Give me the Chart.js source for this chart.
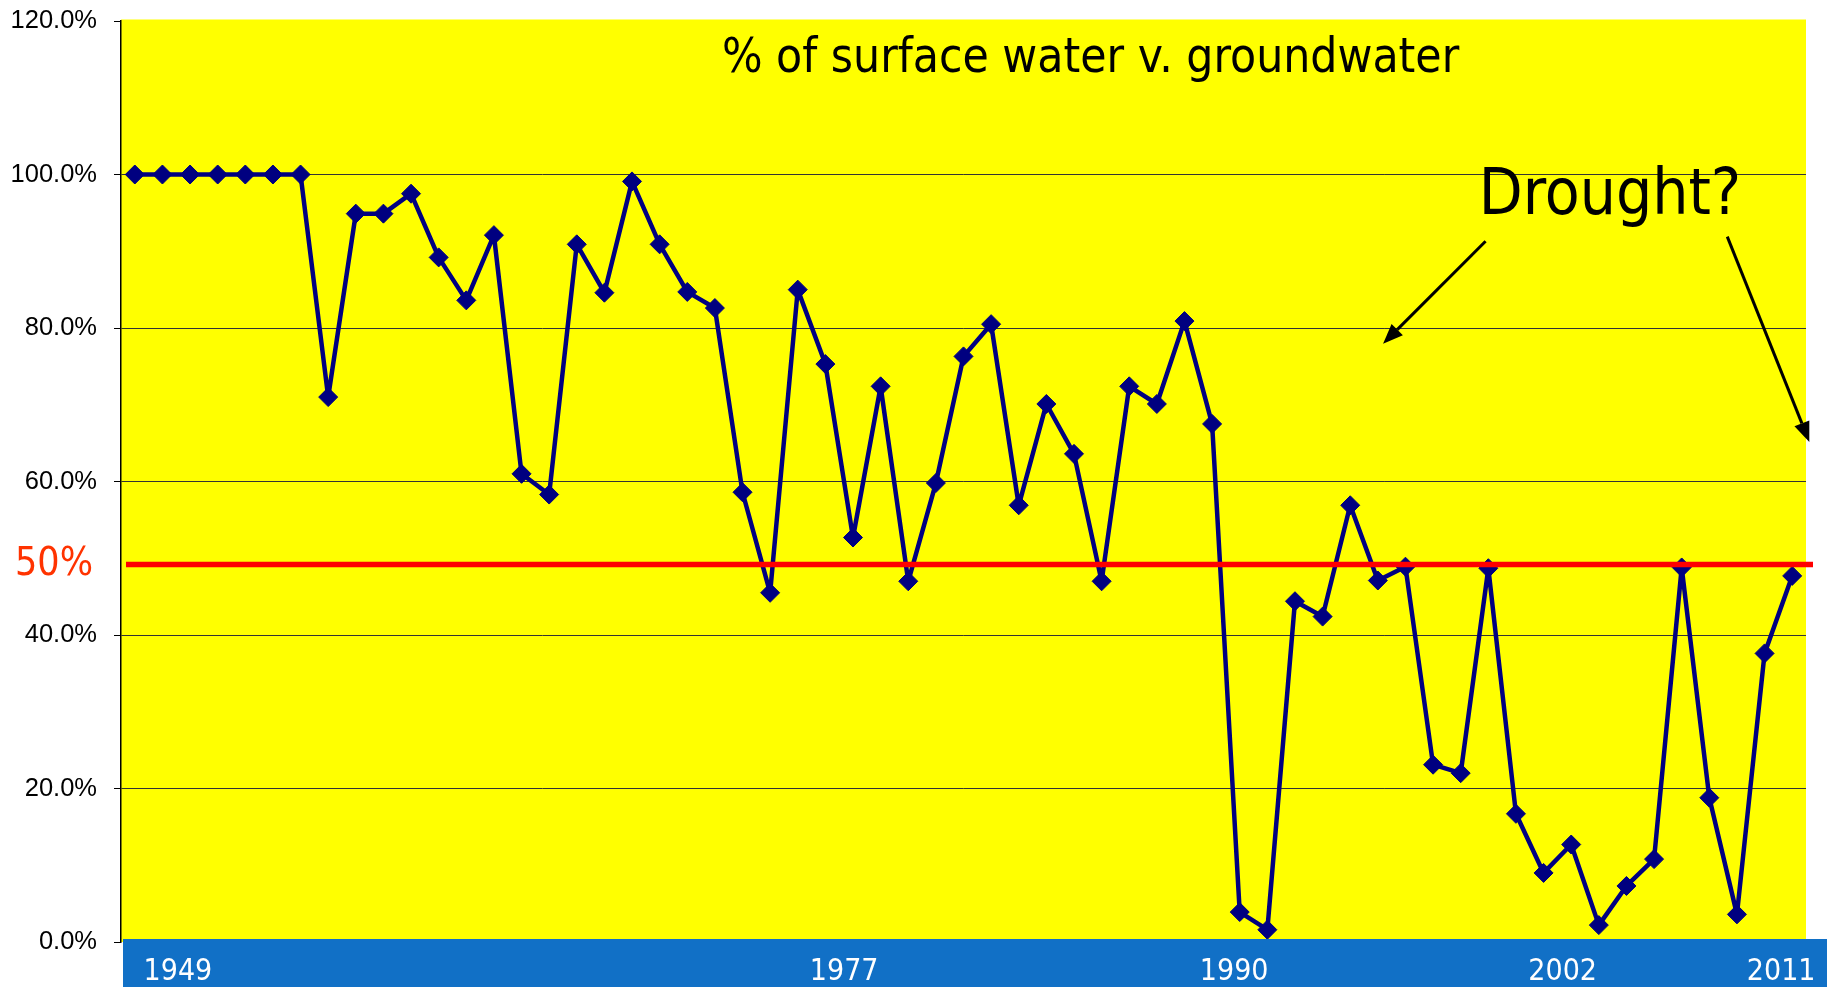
<!DOCTYPE html>
<html>
<head>
<meta charset="utf-8">
<title>% of surface water v. groundwater</title>
<script src="https://cdn.jsdelivr.net/npm/chart.js@4.4.1/dist/chart.umd.min.js"></script>
<style>
  html, body { margin: 0; padding: 0; background: #ffffff; }
  #wrap { width: 1827px; height: 987px; }
</style>
</head>
<body>
<div id="wrap"><canvas id="Chart" width="1827" height="987"></canvas></div>
<script>
// surface water share of supply, one point per year, in percent
const surfaceShare = [
  100, 100, 100, 100, 100, 100, 100, 71.0, 94.9, 94.9,
  97.5, 89.2, 83.6, 92.1, 61.0, 58.3, 90.9, 84.6, 99.1, 90.9,
  84.7, 82.6, 58.6, 45.5, 85.0, 75.3, 52.7, 72.4, 47.0, 59.8,
  76.3, 80.5, 56.9, 70.1, 63.6, 47.0, 72.4, 70.1, 80.9, 67.5,
  3.9, 1.6, 44.4, 42.4, 56.9, 47.1, 48.9, 23.1, 22.0, 48.7,
  16.7, 9.0, 12.7, 2.2, 7.3, 10.8, 48.8, 18.8, 3.6, 37.6,
  47.7
];
const pointLabels = surfaceShare.map((v, i) => String(1949 + i));

// years written on the blue strip under the plot
const bandYears = ["1949", "1977", "1990", "2002", "2011"];

const thresholdValue = 49.2;   // the red "50%" line as drawn
const thresholdLabel = "50%";
const chartTitle = "% of surface water v. groundwater";
const calloutText = "Drought?";

const condensed = '"DejaVu Sans Condensed", "DejaVu Sans", Tahoma, sans-serif';

// where the hand placed things sit, in (category index, percent)
const placement = {
  bandYearAt: [1.56, 25.68, 39.8, 51.69, 59.6],
  title: [34.6, 113.4],
  callout: [53.4, 94.9],
  arrows: [
    [[48.9, 91.3], [45.19, 77.95]],
    [[57.65, 91.9], [60.62, 65.15]]
  ]
};

function drawArrow(ctx, x1, y1, x2, y2) {
  const ang = Math.atan2(y2 - y1, x2 - x1);
  const len = 20, half = 8;
  const bx = x2 - Math.cos(ang) * len;
  const by = y2 - Math.sin(ang) * len;
  ctx.beginPath();
  ctx.moveTo(x1, y1);
  ctx.lineTo(bx, by);
  ctx.stroke();
  ctx.beginPath();
  ctx.moveTo(x2, y2);
  ctx.lineTo(bx + Math.sin(ang) * half, by - Math.cos(ang) * half);
  ctx.lineTo(bx - Math.sin(ang) * half, by + Math.cos(ang) * half);
  ctx.closePath();
  ctx.fill();
}

const decor = {
  id: "decor",
  beforeDraw(chart) {
    const { ctx, chartArea } = chart;
    ctx.save();
    ctx.fillStyle = "#ffff00";
    ctx.fillRect(chartArea.left, chartArea.top - 1.5, chartArea.right - chartArea.left, chartArea.bottom - chartArea.top + 1.5);
    ctx.restore();
  },
  afterDatasetsDraw(chart) {
    const { ctx, chartArea } = chart;
    const xs = chart.scales.x, ys = chart.scales.y;
    ctx.save();

    // red threshold line
    const ty = ys.getPixelForValue(thresholdValue);
    ctx.strokeStyle = "#ff0000";
    ctx.lineWidth = 5.5;
    ctx.beginPath();
    ctx.moveTo(chartArea.left + 5, ty);
    ctx.lineTo(chartArea.right + 7, ty);
    ctx.stroke();

    ctx.fillStyle = "#ff3300";
    ctx.font = "39px " + condensed;
    ctx.textAlign = "right";
    ctx.textBaseline = "middle";
    ctx.fillText(thresholdLabel, chartArea.left - 28, ty);

    // blue year strip
    ctx.fillStyle = "#1170c6";
    ctx.fillRect(chartArea.left + 2, chartArea.bottom - 3, chart.width - chartArea.left - 2, chart.height - chartArea.bottom + 3);
    ctx.fillStyle = "#ffffff";
    ctx.font = "30px " + condensed;
    ctx.textAlign = "center";
    ctx.textBaseline = "alphabetic";
    bandYears.forEach((yr, i) => {
      ctx.fillText(yr, xs.getPixelForValue(placement.bandYearAt[i]), chart.height - 7);
    });

    // title and callout
    ctx.fillStyle = "#000000";
    ctx.font = "47.5px " + condensed;
    ctx.fillText(chartTitle, xs.getPixelForValue(placement.title[0]), ys.getPixelForValue(placement.title[1]));
    ctx.font = "63.5px " + condensed;
    ctx.fillText(calloutText, xs.getPixelForValue(placement.callout[0]), ys.getPixelForValue(placement.callout[1]));

    ctx.strokeStyle = "#000000";
    ctx.lineWidth = 3;
    placement.arrows.forEach(([from, to]) => {
      drawArrow(ctx,
        xs.getPixelForValue(from[0]), ys.getPixelForValue(from[1]),
        xs.getPixelForValue(to[0]), ys.getPixelForValue(to[1]));
    });
    ctx.restore();
  }
};

new Chart("Chart", {
  type: "line",
  data: {
    labels: pointLabels,
    datasets: [{
      data: surfaceShare,
      borderColor: "#000080",
      backgroundColor: "#000080",
      borderWidth: 4.5,
      borderJoinStyle: "round",
      pointStyle: "rectRot",
      pointRadius: 9.5,
      pointBorderWidth: 1,
      pointBackgroundColor: "#000080",
      pointBorderColor: "#000080",
      tension: 0
    }]
  },
  options: {
    responsive: false,
    animation: false,
    layout: { padding: { top: 21, right: 21, bottom: 45, left: 0 } },
    plugins: {
      legend: { display: false },
      tooltip: { enabled: false }
    },
    scales: {
      x: {
        type: "category",
        offset: true,
        display: false
      },
      y: {
        min: 0,
        max: 120,
        afterFit: s => { s.width = 121; s.paddingTop = 0; s.paddingBottom = 0; },
        ticks: {
          stepSize: 20,
          padding: 17,
          color: "#000000",
          font: { family: '"Liberation Sans", Arial, sans-serif', size: 25.5 },
          callback: v => v.toFixed(1) + "%"
        },
        grid: {
          color: c => (c.tick.value === 0 || c.tick.value === 120) ? "rgba(0,0,0,0)" : "#333333",
          lineWidth: 1,
          tickLength: 7,
          tickColor: "#000000",
          tickWidth: 1
        },
        border: { color: "#000000", width: 1.5 }
      }
    }
  },
  plugins: [decor]
});
</script>
</body>
</html>
